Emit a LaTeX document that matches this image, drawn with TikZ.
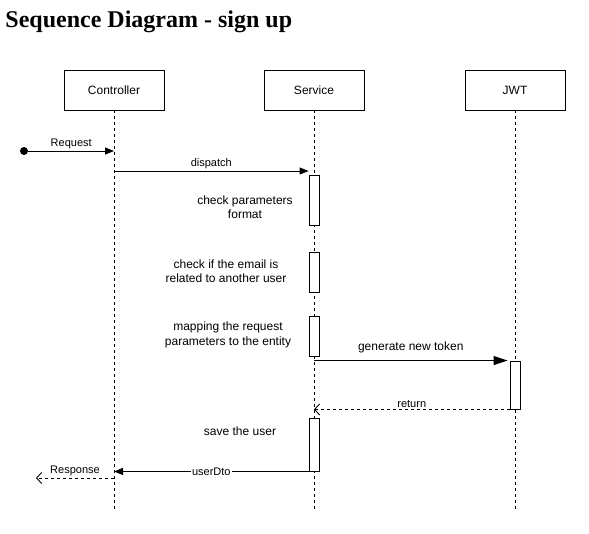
\documentclass[tikz,border=0pt]{standalone}
\usepackage{fontspec}
\setmainfont{Liberation Sans}
\newfontfamily\titlefont{Liberation Serif}
\usetikzlibrary{arrows.meta,positioning,calc}

\tikzset{
  actor/.style={draw, minimum width=100pt, minimum height=40pt, font=\fontsize{12}{14}\selectfont},
  life/.style={dash pattern=on 3pt off 3pt},
  act/.style={draw, fill=white, minimum width=10pt, inner sep=0pt},
  msg/.style={-{Triangle[length=9pt,width=7pt]}},
  bigmsg/.style={-{Triangle[length=14pt,width=9pt]}},
  ret/.style={dash pattern=on 3pt off 3pt, -{Straight Barb[length=5pt,width=11pt]}},
  note/.style={align=center, font=\fontsize{12}{14.5}\selectfont},
  lbl/.style={font=\fontsize{11}{13}\selectfont, inner sep=1.5pt},
}

\begin{document}
\begin{tikzpicture}[x=1pt, y=-1pt, line width=0.9pt]
\useasboundingbox (0,0) rectangle (589,533);

% title
\node[anchor=west, inner sep=0pt, font=\titlefont\bfseries\fontsize{24}{28}\selectfont] (title) at (5,22) {Sequence Diagram - sign up};

% participants and lifelines
\node[actor] (ctrl) at (114,90) {Controller};
\node[actor] (svc) at (314,90) {Service};
\node[actor] (jwt) at (515,90) {JWT};
\coordinate (ctrl end) at (114,512);
\coordinate (svc end) at (314,512);
\coordinate (jwt end) at (515,512);
\draw[life] (ctrl) -- (ctrl end);
\draw[life] (svc) -- (svc end);
\draw[life] (jwt) -- (jwt end);

% activations
\node[act, minimum height=50pt] (a1) at (314,200) {};
\node[act, minimum height=40pt] (a2) at (314,272) {};
\node[act, minimum height=40pt] (a3) at (314,336) {};
\node[act, minimum height=53pt] (a4) at (314,444.5) {};
\node[act, minimum height=48pt] (j1) at (515,385) {};

% notes
\node[note] (n1) at (245,207) {check parameters\\format};
\node[note] (n2) at (226,271) {check if the email is\\related to another user};
\node[note] (n3) at (228,335) {mapping the request\\parameters to the entity};
\node[note] (n4) at (240,431) {save the user};

% messages
\node[circle, fill, inner sep=0pt, minimum size=8pt] (start) at (24,151) {};
\draw[msg] (start) -- (start -| ctrl) node[midway, above, lbl] {Request};
\coordinate (d) at (114,171);
\draw[msg] (d) -- (d -| a1.west) node[midway, above, lbl] {dispatch};
\draw[bigmsg] (j1.north west -| svc) -- ([xshift=-2pt]j1.north west) node[midway, above, note, yshift=4pt] {generate new token};
\draw[ret] (j1.south west) -- (j1.south west -| svc) node[midway, above, lbl] {return};
\draw[msg] (a4.south west) -- (a4.south west -| ctrl) node[midway, fill=white, lbl] {userDto};
\coordinate (resp) at (114,478);
\coordinate (resp end) at (36,478);
\draw[ret] (resp) -- (resp end) node[midway, above, lbl] {Response};
\end{tikzpicture}
\end{document}
